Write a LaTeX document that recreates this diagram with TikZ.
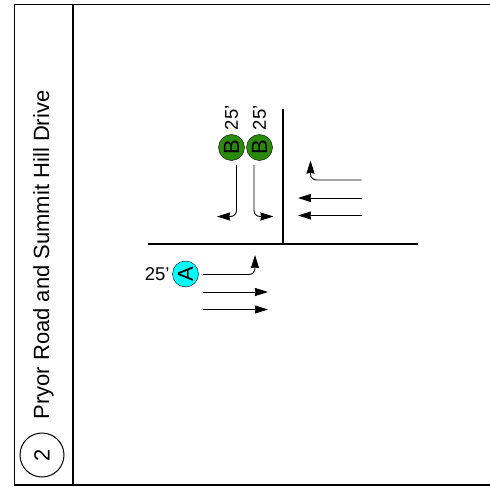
\documentclass[tikz,border=0pt]{standalone}
\usepackage{fontspec}
\setmainfont{Liberation Sans}
\usetikzlibrary{positioning,arrows.meta}
\definecolor{phasea}{RGB}{0,255,255}
\definecolor{phaseb}{RGB}{42,138,10}
\newcommand{\uptext}[1]{\rotatebox{90}{#1}}

\begin{document}
\begin{tikzpicture}[x=1pt,y=-1pt,node distance=2pt,
	signal/.style={draw,circle,inner sep=0pt,minimum size=26pt,font=\fontsize{22}{22}\selectfont},
	lanearrow/.style={draw,line width=0.9pt,-{Stealth[length=13pt,width=8pt,inset=0.5pt]}},
	turnarrow/.style={lanearrow,rounded corners=6pt},
	road/.style={draw,line width=1.5pt},
	delay/.style={font=\fontsize{18.5}{18.5}\selectfont,inner sep=0pt}
	]
	\useasboundingbox (0,0) rectangle (490,487);
	% frame
	\draw[line width=1.2pt] (490,4.5) -- (14.5,4.5) -- (14.5,485) -- (490,485);
	\draw[line width=1.2pt] (73,4.5) -- (73,485);
	\node[draw,circle,line width=1pt,minimum size=44pt,inner sep=0pt,font=\fontsize{22}{22}\selectfont] (num) at (42,455) {\uptext{2}};
	\node[inner sep=0pt,font=\fontsize{22}{22}\selectfont] (title) at (43.5,255) {\uptext{Pryor Road and Summit Hill Drive}};

	% roads
	\coordinate (WE) at (148,244);
	\coordinate (EE) at (418,244);
	\coordinate (NE) at (283,109);
	\coordinate (JN) at (283,244);
	\path[road] (WE) -- (EE);
	\path[road] (NE) -- (JN);

	% signals
	\node[signal,fill=phasea] (A) at (185.5,274) {\uptext{A}};
	\node[delay,left=2.5pt of A] (Alabel) {25'};
	\node[signal,fill=phaseb] (B1) at (231.5,147.5) {\uptext{B}};
	\node[signal,fill=phaseb] (B2) at (259.5,147.5) {\uptext{B}};
	\node[delay,above=4pt of B1] (B1label) {\uptext{25'}};
	\node[delay,above=4pt of B2] (B2label) {\uptext{25'}};

	% phase A arrows
	\coordinate (a1s) at (203,274.5);
	\coordinate (a1c) at (255,274.5);
	\coordinate (a1e) at (255,255);
	\coordinate (a2s) at (203,292);
	\coordinate (a2e) at (268,292);
	\coordinate (a3s) at (203,309.5);
	\coordinate (a3e) at (268,309.5);
	\draw[turnarrow] (a1s) -- (a1c) -- (a1e);
	\draw[lanearrow] (a2s) -- (a2e);
	\draw[lanearrow] (a3s) -- (a3e);

	% phase B arrows, south
	\coordinate (b1s) at (236.5,165);
	\coordinate (b1c) at (236.5,216.5);
	\coordinate (b1e) at (217,216.5);
	\coordinate (b2s) at (254,165);
	\coordinate (b2c) at (254,216.5);
	\coordinate (b2e) at (273.5,216.5);
	\draw[turnarrow] (b1s) -- (b1c) -- (b1e);
	\draw[turnarrow] (b2s) -- (b2c) -- (b2e);

	% phase B arrows, west
	\coordinate (b3s) at (361.7,180);
	\coordinate (b3c) at (310.5,180);
	\coordinate (b3e) at (310.5,160.5);
	\coordinate (b4s) at (361.7,198);
	\coordinate (b4e) at (298,198);
	\coordinate (b5s) at (361.7,215.5);
	\coordinate (b5e) at (298,215.5);
	\draw[turnarrow] (b3s) -- (b3c) -- (b3e);
	\draw[lanearrow] (b4s) -- (b4e);
	\draw[lanearrow] (b5s) -- (b5e);
\end{tikzpicture}
\end{document}
